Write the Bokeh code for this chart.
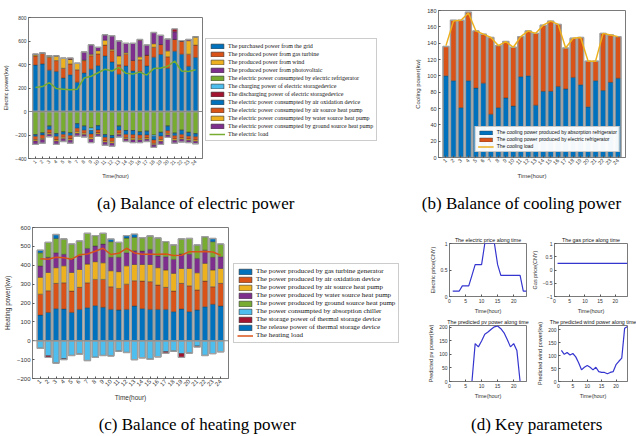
import math
from bokeh.plotting import figure
from bokeh.models import (ColumnDataSource, Range1d, FixedTicker, Legend, LegendItem, Span)
from bokeh.layouts import row, column
from bokeh.embed import file_html
from bokeh.resources import INLINE
from bokeh.core.properties import value
from bokeh.transform import stack

hours = list(range(1, 25))
hour_ticks = list(range(1, 25))

# ---------------- (a) Balance of electric power ----------------
grid_power = [395, 405, 352, 340, 285, 312, 250, 328, 360, 390, 473, 422, 318, 388, 345, 340, 388, 462, 485, 368, 513, 488, 385, 460]
gt_power = [78, 90, 108, 93, 83, 93, 105, 105, 115, 100, 92, 95, 80, 100, 90, 100, 92, 85, 85, 98, 100, 110, 103, 105]
wind_power = [10, 0, 12, 40, 85, 40, 55, 5, 12, 28, 42, 12, 75, 12, 0, 25, 0, 30, 0, 50, 0, 0, 115, 70]
pv_power = [5, 3, 0, 0, 0, 0, 0, 68, 80, 28, 45, 116, 127, 80, 145, 140, 85, 95, 78, 100, 65, 0, 10, 0]
discharge_power = [0, 0, 0, 0, 0, 10, 0, 0, 0, 0, 0, 0, 0, 0, 0, 8, 0, 0, 0, 0, 25, 5, 0, 0]
refrig_elec = [-198, -184, -125, -190, -175, -183, -105, -125, -140, -122, -198, -205, -125, -162, -162, -175, -168, -200, -178, -125, -185, -160, -178, -190]
charge_power = [0, 0, 0, 0, 0, 0, 0, 0, -22, 0, 0, 0, 0, 0, 0, 0, 0, -12, 0, 0, 0, 0, 0, 0]
airox_elec = [-14, -16, -30, -22, -20, -22, -38, -35, -30, -35, -22, -20, -35, -33, -35, -25, -32, -30, -32, -38, -22, -35, -32, -25]
ashp_elec = [-28, -30, -28, -30, -25, -28, -30, -25, -30, -25, -30, -30, -25, -28, -30, -30, -25, -30, -30, -25, -28, -30, -25, -28]
wshp_elec = [-12, -10, -12, -12, -12, -12, -14, -12, -15, -12, -12, -15, -12, -12, -15, -12, -12, -12, -15, -12, -12, -12, -12, -12]
gshp_elec = [-28, -30, -20, -26, -23, -25, -23, -20, -28, -18, -25, -25, -20, -20, -23, -23, -18, -21, -25, -20, -23, -23, -18, -20]
electric_load = [205, 212, 245, 195, 190, 185, 190, 285, 300, 330, 360, 345, 375, 325, 320, 335, 310, 365, 370, 385, 430, 345, 340, 355]

labels_a = [
    "The purchased power from the grid",
    "The produced power from gas turbine",
    "The produced power from wind",
    "The produced power from photovoltaic",
    "The electric power consumpted by electric refrigerator",
    "The charging power of electric storagedevice",
    "The discharging power of electric storagedevice",
    "The electric power consumpted by air oxidation device",
    "The electric power consumpted by air source heat pump",
    "The electric power consumpted by water source heat pump",
    "The electric power consumpted by ground source heat pump",
    "The electric load",
]
yticks_a = [-400, -200, 0, 200, 400, 600, 800]

# ---------------- (b) Balance of cooling power ----------------
absorption_cool = [100, 94, 61, 94, 85, 91, 53, 61, 73, 63, 99, 100, 64, 81, 81, 87, 84, 98, 89, 62, 94, 82, 92, 97]
elec_refrig_cool = [36, 74, 107, 84, 70, 60, 94, 76, 69, 72, 49, 55, 88, 81, 86, 76, 50, 48, 58, 56, 24, 70, 58, 51]
cooling_load = [137, 167, 168, 177, 155, 151, 147, 137, 142, 135, 148, 155, 152, 162, 167, 163, 134, 146, 147, 118, 118, 152, 150, 148]
labels_b = [
    "The cooling power produced by absorption refrigerator",
    "The cooling power produced by electric refrigerator",
    "The cooling load",
]
yticks_b = [0, 20, 40, 60, 80, 100, 120, 140, 160, 180]

# ---------------- (c) Balance of heating power ----------------
gt_heat = [136, 150, 170, 168, 150, 166, 175, 186, 177, 166, 163, 166, 184, 170, 166, 166, 166, 154, 168, 154, 163, 180, 193, 184]
airox_heat = [111, 115, 134, 139, 113, 117, 132, 139, 148, 120, 114, 134, 134, 146, 147, 129, 117, 109, 136, 137, 106, 136, 93, 120]
ashp_heat = [89, 97, 83, 90, 99, 95, 99, 94, 88, 85, 89, 97, 86, 88, 91, 92, 92, 94, 79, 92, 91, 94, 89, 79]
wshp_heat = [60, 80, 79, 61, 71, 71, 83, 83, 99, 71, 76, 69, 73, 71, 80, 62, 70, 74, 76, 75, 76, 70, 67, 62]
gshp_heat = [70, 79, 76, 81, 79, 79, 80, 55, 57, 83, 79, 78, 71, 71, 71, 95, 80, 76, 80, 84, 71, 71, 83, 67]
absorb_chiller = [-40, -80, -118, -95, -78, -70, -105, -88, -78, -80, -55, -62, -100, -90, -98, -85, -58, -55, -68, -65, -28, -78, -68, -58]
storage_heat = [0, -8, 0, -5, 0, 0, 0, 0, 0, 0, 0, 0, 0, 0, 0, 0, -8, 0, -20, 0, -5, 0, 0, 0]
release_heat = [14, 0, 21, 0, 0, 0, 0, 0, 0, 14, 0, 13, 17, 0, 0, 0, 0, 0, 0, 0, 0, 0, 17, 0]
heating_load = [435, 432, 442, 440, 432, 455, 460, 474, 490, 457, 463, 490, 465, 458, 458, 458, 460, 452, 453, 472, 472, 473, 470, 453]
labels_c = [
    "The power produced by gas turbine generator",
    "The power produced by air oxidation device",
    "The power produced by air source heat pump",
    "The power produced by water source heat pump",
    "The power produced by ground source heat pump",
    "The power consumpted by absorption chiller",
    "The storage power of thermal storage device",
    "The release power of thermal storage device",
    "The heating load",
]
yticks_c = [-200, -100, 0, 100, 200, 300, 400, 500, 600]

# ---------------- (d) Key parameters ----------------
electric_price = [0.1, 0.1, 0.1, 0.2, 0.2, 0.2, 0.4, 0.6, 0.6, 0.6, 1.0, 1.0, 1.0, 1.0, 0.6, 0.4, 0.4, 0.4, 0.4, 0.4, 0.4, 0.4, 0.1, 0.1]
gas_price = [0.25] * 24
pv_forecast = [0, 0, 0, 0, 0, 0, 0, 140, 128, 150, 175, 183, 193, 202, 205, 195, 180, 155, 128, 140, 115, 0, 0, 0]
wind_forecast = [120, 105, 112, 102, 108, 95, 72, 45, 55, 62, 55, 45, 55, 38, 35, 35, 30, 35, 38, 65, 78, 90, 205, 212]
d_xticks = [0, 5, 10, 15, 20]

captions = ["(a) Balance of electric power", "(b) Balance of cooling power",
            "(c) Balance of heating power", "(d) Key parameters"]

SANS = "Liberation Sans"
SERIF = "Liberation Serif"
BLUE, ORANGE, YELLOW, PURPLE = "#0072BD", "#D95319", "#EDB120", "#7E2F8E"
GREEN, CYAN, DRED = "#77AC30", "#4DBEEE", "#A2142F"
AXC = "#7a7a7a"
TXT = "#333333"


def fig(**kw):
    return figure(toolbar_location=None, output_backend="svg", frame_align=False, **kw)


def style(p, xticks, yticks, tick_fs, label_fs, xlabel, ylabel, rotate=True):
    p.xgrid.visible = False
    p.ygrid.visible = False
    p.outline_line_color = AXC
    p.outline_line_width = 1
    p.xaxis.ticker = FixedTicker(ticks=xticks)
    p.yaxis.ticker = FixedTicker(ticks=yticks)
    p.xaxis.axis_label = xlabel
    p.yaxis.axis_label = ylabel
    for ax in (p.xaxis[0], p.yaxis[0]):
        ax.axis_line_color = AXC
        ax.major_tick_in = 2
        ax.major_tick_out = 0
        ax.major_tick_line_color = "#555555"
        ax.minor_tick_line_color = None
        ax.major_label_text_font = SANS
        ax.major_label_text_font_size = tick_fs
        ax.major_label_text_color = TXT
        ax.major_label_standoff = 2
        ax.axis_label_text_font = SANS
        ax.axis_label_text_font_size = label_fs
        ax.axis_label_text_font_style = "normal"
        ax.axis_label_text_color = TXT
        ax.axis_label_standoff = 3
    if rotate:
        p.xaxis.major_label_orientation = math.pi / 4


def blank(w, h, top, xr=(0, 1), yr=(0, 1)):
    b = fig(width=w, height=h, x_range=Range1d(*xr), y_range=Range1d(*yr),
            min_border_left=0, min_border_right=0, min_border_bottom=0, min_border_top=top)
    b.axis.visible = False
    b.xgrid.visible = False
    b.ygrid.visible = False
    b.outline_line_color = None
    return b


def legend_panel(labels, specs, src, w, h, top, font_fs, row_h, glyph_h, spacing):
    """Panel carrying only the legend; its renderers reuse the chart's data but lie
    outside the panel's (empty) view, so only the legend is seen."""
    b = blank(w, h, top, xr=(1000, 1001), yr=(1000, 1001))
    items = []
    for lab, (kind, col, field) in zip(labels, specs):
        if kind == "bar":
            r = b.vbar(x="hour", top=field, width=0.8, fill_color=col, line_color="#333333",
                       line_width=0.6, source=src)
        else:
            r = b.line(x="hour", y=field, line_color=col, line_width=1.5, source=src)
        items.append(LegendItem(label=lab, renderers=[r]))
    leg = Legend(items=items, location="top_left", ncols=1, label_text_font=SERIF,
                 label_text_font_size=font_fs, label_text_color="#111111",
                 label_height=row_h, glyph_height=glyph_h, glyph_width=16, label_standoff=3,
                 spacing=spacing, padding=3, margin=0, border_line_color="#999999",
                 border_line_width=1, background_fill_color="white")
    b.add_layout(leg)
    return b


# ---------- figure (a) ----------
src_a = ColumnDataSource(dict(hour=hours, grid=grid_power, gt=gt_power, wind=wind_power, pv=pv_power,
                              dis=discharge_power, ref=refrig_elec, chg=charge_power, ao=airox_elec,
                              ash=ashp_elec, wsh=wshp_elec, gsh=gshp_elec, load=electric_load))
pA = fig(width=205, height=190, x_range=Range1d(0, 25), y_range=Range1d(-400, 800),
         min_border_left=28, min_border_right=3, min_border_top=17, min_border_bottom=32)
pos_names = ["grid", "gt", "wind", "pv", "dis"]
neg_names = ["ref", "chg", "ao", "ash", "wsh", "gsh"]
pA.vbar_stack(pos_names, x="hour", width=0.8, color=[BLUE, ORANGE, YELLOW, PURPLE, DRED],
              line_color="#333333", line_width=0.4, source=src_a)
pA.vbar_stack(neg_names, x="hour", width=0.8, color=[GREEN, CYAN, BLUE, ORANGE, YELLOW, PURPLE],
              line_color="#333333", line_width=0.4, source=src_a)
pA.vbar(x="hour", width=0.8, bottom=0, top=stack(*pos_names), fill_color=None,
        line_color="#a0a0a0", line_width=1.4, source=src_a)
pA.vbar(x="hour", width=0.8, bottom=0, top=stack(*neg_names), fill_color=None,
        line_color="#a0a0a0", line_width=1.4, source=src_a)
pA.add_layout(Span(location=0, dimension="width", line_color="#8a8a8a", line_width=1))
pA.line(x="hour", y="load", line_color=GREEN, line_width=1.5, source=src_a)
style(pA, hour_ticks, yticks_a, "5px", "5.5px", "Time(hour)", "Electric power(kw)")
specs_a = [("bar", BLUE, "grid"), ("bar", ORANGE, "gt"), ("bar", YELLOW, "wind"),
           ("bar", PURPLE, "pv"), ("bar", GREEN, "ref"), ("bar", CYAN, "chg"),
           ("bar", DRED, "dis"), ("bar", BLUE, "ao"), ("bar", ORANGE, "ash"),
           ("bar", YELLOW, "wsh"), ("bar", PURPLE, "gsh"), ("line", GREEN, "load")]
legA = legend_panel(labels_a, specs_a, src_a, 183, 190, 38, "6px", 7, 6, 1)

# ---------- figure (b) ----------
src_b = ColumnDataSource(dict(hour=hours, ab=absorption_cool, er=elec_refrig_cool, load=cooling_load))
pB = fig(width=248, height=190, x_range=Range1d(0, 25), y_range=Range1d(0, 180),
         min_border_left=50, min_border_right=11, min_border_top=10, min_border_bottom=33)
rb = pB.vbar_stack(["ab", "er"], x="hour", width=0.8, color=[BLUE, ORANGE],
                   line_color="#333333", line_width=0.4, source=src_b)
pB.vbar(x="hour", width=0.8, bottom=0, top=stack("ab", "er"), fill_color=None,
        line_color="#a0a0a0", line_width=1.4, source=src_b)
lb = pB.line(x="hour", y="load", line_color=YELLOW, line_width=1.5, source=src_b)
style(pB, hour_ticks, yticks_b, "5.5px", "6px", "Time(hour)", "Cooling power(kw)")
legB = Legend(items=[LegendItem(label=l, renderers=[r]) for l, r in zip(labels_b, [rb[0], rb[1], lb])],
              location="bottom_right", ncols=1, label_text_font=SANS, label_text_font_size="5px",
              label_text_color="#111111", label_height=5, glyph_height=5, glyph_width=16,
              label_standoff=3, spacing=1, padding=2, margin=5,
              border_line_color="#999999", border_line_width=1, background_fill_color="white")
pB.add_layout(legB)

# ---------- figure (c) ----------
src_c = ColumnDataSource(dict(hour=hours, gt=gt_heat, ao=airox_heat, ash=ashp_heat, wsh=wshp_heat,
                              gsh=gshp_heat, rel=release_heat, ab=absorb_chiller, st=storage_heat,
                              load=heating_load))
pC = fig(width=233, height=192, x_range=Range1d(0, 25), y_range=Range1d(-200, 600),
         min_border_left=32, min_border_right=5, min_border_top=9, min_border_bottom=32)
cpos = ["gt", "ao", "ash", "wsh", "gsh", "rel"]
cneg = ["ab", "st"]
pC.vbar_stack(cpos, x="hour", width=0.8, color=[BLUE, ORANGE, YELLOW, PURPLE, GREEN, BLUE],
              line_color="#333333", line_width=0.4, source=src_c)
pC.vbar_stack(cneg, x="hour", width=0.8, color=[CYAN, DRED],
              line_color="#333333", line_width=0.4, source=src_c)
pC.vbar(x="hour", width=0.8, bottom=0, top=stack(*cpos), fill_color=None,
        line_color="#a0a0a0", line_width=1.4, source=src_c)
pC.vbar(x="hour", width=0.8, bottom=0, top=stack(*cneg), fill_color=None,
        line_color="#a0a0a0", line_width=1.4, source=src_c)
pC.add_layout(Span(location=0, dimension="width", line_color="#8a8a8a", line_width=1))
pC.line(x="hour", y="load", line_color=ORANGE, line_width=1.5, source=src_c)
style(pC, hour_ticks, yticks_c, "6px", "6.5px", "Time(hour)", "Heating power(kw)")
specs_c = [("bar", BLUE, "gt"), ("bar", ORANGE, "ao"), ("bar", YELLOW, "ash"),
           ("bar", PURPLE, "wsh"), ("bar", GREEN, "gsh"), ("bar", CYAN, "ab"),
           ("bar", DRED, "st"), ("bar", BLUE, "rel"), ("line", ORANGE, "load")]
legC = legend_panel(labels_c, specs_c, src_c, 172, 192, 45, "7px", 7, 7, 0)


# ---------- figure (d) ----------
def small(title, yvals, yr, yticks, ylabel, w, h, bl, br, bt, bb):
    p = fig(width=w, height=h, x_range=Range1d(0, 24), y_range=Range1d(*yr), title=title,
            min_border_left=bl, min_border_right=br, min_border_top=bt, min_border_bottom=bb)
    p.line(x=hours, y=yvals, line_color="#3535cf", line_width=1.2)
    style(p, d_xticks, yticks, "5px", "5.5px", "Time(hour)", ylabel, rotate=False)
    p.title.align = "center"
    p.title.text_font = SANS
    p.title.text_font_size = "5.3px"
    p.title.text_font_style = "normal"
    p.title.text_color = "#111111"
    p.title.standoff = 1
    p.xaxis.axis_label_standoff = 2
    p.yaxis.axis_label_standoff = 2
    return p


d1 = small("The electric price along time", electric_price, (0, 1), [0, 0.5, 1],
           "Electric price(CNY)", 123, 98, 44, 2, 25, 18)
d2 = small("The gas price along time", gas_price, (-1, 1), [-1, -0.5, 0, 0.5, 1],
           "Gas price(CNY)", 108, 98, 24, 9, 25, 18)
d3 = small("The predicted pv power along time", pv_forecast, (0, 207), [0, 50, 100, 150, 200],
           "Predicted pv power(kw)", 129, 94, 44, 8, 9, 29)
d4 = small("The predicted wind power along time", wind_forecast, (0, 216), [0, 50, 100, 150, 200],
           "Predicted wind power(kw)", 102, 94, 19, 9, 9, 29)


def caption(text, w, h, xpos, ypos):
    c = blank(w, h, 0)
    c.text(x=[xpos], y=[ypos], text=[text], text_align="center", text_baseline="middle",
           text_font=value(SERIF), text_font_size="17px", text_color="black")
    return c


capA = caption(captions[0], 320, 28, 0.61, 0.55)
capB = caption(captions[1], 316, 28, 0.636, 0.55)
capC = caption(captions[2], 320, 26, 0.615, 0.45)
capD = caption(captions[3], 316, 26, 0.684, 0.45)

layout = column(row(pA, legA, pB), row(capA, capB),
                row(pC, legC, column(row(d1, d2), row(d3, d4))),
                row(capC, capD))

open("out.html", "w").write(file_html(layout, INLINE))
